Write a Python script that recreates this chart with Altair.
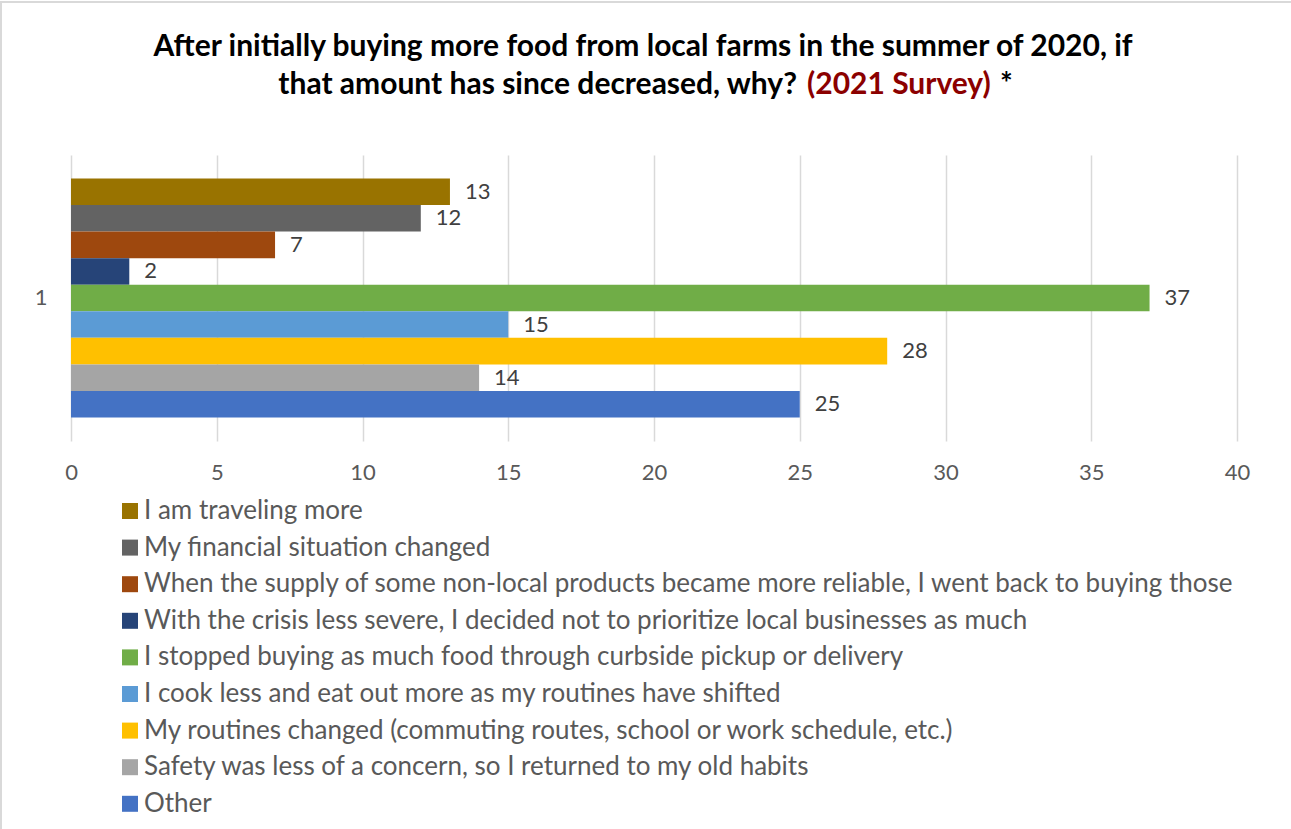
import altair as alt
import pandas as pd

category = ["1"]
series = [
    "I am traveling more",
    "My financial situation changed",
    "When the supply of some non-local products became more reliable, I went back to buying those",
    "With the crisis less severe, I decided not to prioritize local businesses as much",
    "I stopped buying as much food through curbside pickup or delivery",
    "I cook less and eat out more as my routines have shifted",
    "My routines changed (commuting routes, school or work schedule, etc.)",
    "Safety was less of a concern, so I returned to my old habits",
    "Other",
]
values = [13, 12, 7, 2, 37, 15, 28, 14, 25]
colors = ["#997300", "#636363", "#9E480E", "#264478", "#70AD47",
          "#5B9BD5", "#FFC000", "#A5A5A5", "#4472C4"]
x_ticks = [0, 5, 10, 15, 20, 25, 30, 35, 40]

title_line1 = "After initially buying more food from local farms in the summer of 2020, if"
title_line2a = "that amount has since decreased, why?"
title_line2b = "(2021 Survey)"
title_line2c = "*"

FONT = "Lato"

df = pd.DataFrame({
    "category": category * len(series),
    "series": series,
    "value": values,
})

y_enc = alt.Y(
    "category:N",
    scale=alt.Scale(paddingInner=0, paddingOuter=0.0983),
    axis=alt.Axis(title=None, ticks=False, domain=False, labelFontSize=22,
                  labelColor="#595959", labelFont=FONT, labelPadding=24,
                  grid=False),
)
yoff_enc = alt.YOffset("series:N", sort=series,
                       scale=alt.Scale(paddingInner=0, paddingOuter=0))
x_enc = alt.X(
    "value:Q",
    scale=alt.Scale(domain=[0, 40], nice=False),
    axis=alt.Axis(title=None, values=x_ticks, grid=True, gridColor="#d9d9d9",
                  gridWidth=1.5, domain=False, ticks=False, labelFontSize=22,
                  labelColor="#595959", labelFont=FONT, labelPadding=21,
                  labelFlush=False),
)

bars = alt.Chart(df).mark_bar().encode(
    y=y_enc,
    yOffset=yoff_enc,
    x=x_enc,
    color=alt.Color(
        "series:N", sort=series,
        scale=alt.Scale(domain=series, range=colors),
        legend=alt.Legend(
            title=None, orient="none", legendX=46, legendY=343,
            direction="vertical", symbolType="square", symbolSize=256,
            symbolStrokeWidth=0, labelFontSize=26, labelColor="#595959",
            labelFont=FONT, labelLimit=1300, labelOffset=1, rowPadding=10.6,
        ),
    ),
)

labels = alt.Chart(df).mark_text(
    align="left", baseline="middle", dx=15, fontSize=22, color="#404040", font=FONT
).encode(
    y=alt.Y("category:N"),
    yOffset=alt.YOffset("series:N", sort=series),
    x=alt.X("value:Q"),
    text=alt.Text("value:Q"),
)

def title_piece(txt, x, y, align, color):
    return alt.Chart(alt.Data(values=[{"t": txt}])).mark_text(
        align=align, baseline="middle", fontSize=30, fontWeight="bold",
        font=FONT, color=color
    ).encode(text="t:N", x=alt.value(x), y=alt.value(y))

t1 = title_piece(title_line1, 572, -108, "center", "#000000")
t2a = title_piece(title_line2a, 726, -70, "right", "#000000")
t2b = title_piece(title_line2b, 736, -70, "left", "#8B0000")
t2c = title_piece(title_line2c, 929, -70, "left", "#000000")

# light chart-area frame (top and left edges visible in the reference)
frame_top = alt.Chart(alt.Data(values=[{}])).mark_rule(
    color="#d9d9d9", strokeWidth=2
).encode(x=alt.value(-71), x2=alt.value(1220), y=alt.value(-153))
frame_left = alt.Chart(alt.Data(values=[{}])).mark_rule(
    color="#d9d9d9", strokeWidth=2
).encode(x=alt.value(-70), y=alt.value(-154), y2=alt.value(674))

chart = alt.layer(frame_top, frame_left, bars, labels, t1, t2a, t2b, t2c).properties(
    width=1166, height=286,
    padding={"left": 71, "top": 155, "right": 54, "bottom": 388},
    autosize=alt.AutoSizeParams(type="none"),
    background="white",
).configure_view(stroke=None)

chart.save("out.html", embed_options={"renderer": "svg", "actions": False})
